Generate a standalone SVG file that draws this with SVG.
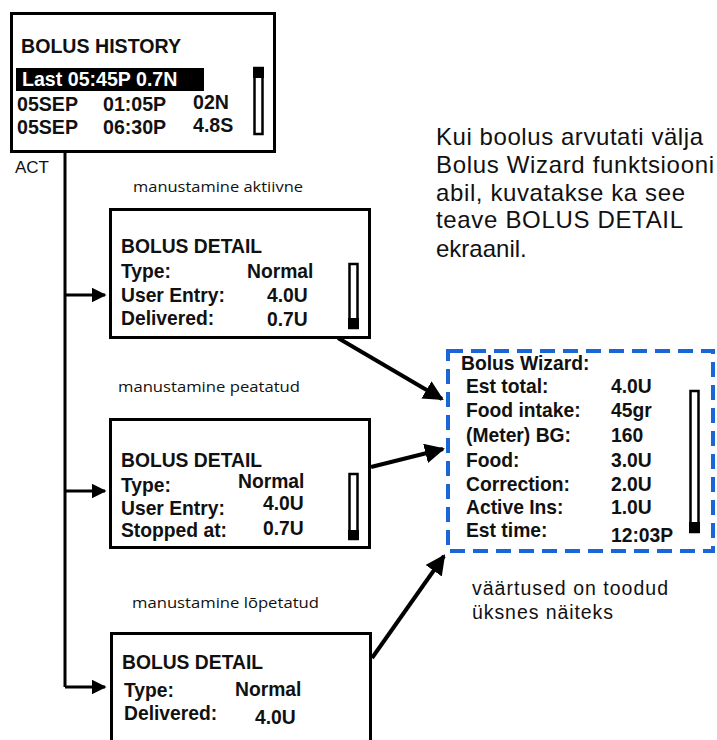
<svg xmlns="http://www.w3.org/2000/svg" width="717" height="740" viewBox="0 0 717 740">
<style>
.scr{fill:none;stroke:#000;stroke-width:3}
.ui{font-family:"Liberation Sans",Arial,sans-serif;font-weight:bold;font-size:19.3px;fill:#111}
.hist{font-family:"Liberation Sans",Arial,sans-serif;font-weight:bold;font-size:19.6px;fill:#111}
.lbl{font-family:"Open Sans","Liberation Sans",sans-serif;font-size:14px;fill:#111}
.para{font-family:"Liberation Sans",Arial,sans-serif;font-size:24px;fill:#111}
.note{font-family:"Liberation Sans",Arial,sans-serif;font-size:19.5px;fill:#111}
.sb{fill:#fff;stroke:#000;stroke-width:2.5}
.conn{fill:none;stroke:#000;stroke-width:3}
.conn2{fill:none;stroke:#000;stroke-width:4}
</style>
<defs>
<marker id="ah" markerWidth="5" markerHeight="5" refX="4.5" refY="2.5" orient="auto" markerUnits="strokeWidth">
<path d="M0,0 L5,2.5 L0,5 Z" fill="#000"/>
</marker>
<marker id="ah2" markerWidth="5" markerHeight="5" refX="4.5" refY="2.5" orient="auto" markerUnits="strokeWidth">
<path d="M0,0 L5,2.5 L0,5 Z" fill="#000"/>
</marker>
</defs>
<rect width="717" height="740" fill="#fff"/>

<g id="connectors">
<polyline class="conn" points="65,152 65,687"/>
<line class="conn" x1="65" y1="295" x2="105" y2="295" marker-end="url(#ah)"/>
<line class="conn" x1="65" y1="491" x2="105" y2="491" marker-end="url(#ah)"/>
<line class="conn" x1="65" y1="687" x2="105" y2="687" marker-end="url(#ah)"/>
<line class="conn2" x1="338" y1="338" x2="442" y2="399" marker-end="url(#ah2)"/>
<line class="conn2" x1="371" y1="467" x2="443" y2="449" marker-end="url(#ah2)"/>
<line class="conn2" x1="372" y1="658" x2="444" y2="556" marker-end="url(#ah2)"/>
</g>

<g id="bolus-history">
<rect class="scr" x="11.5" y="13.5" width="263" height="138"/>
<text class="hist" x="21" y="53">BOLUS HISTORY</text>
<rect x="16" y="68" width="188" height="23" fill="#000"/>
<text class="hist" x="22" y="86" style="fill:#fff">Last 05:45P 0.7N</text>
<text class="hist" x="17" y="111">05SEP</text>
<text class="hist" x="103" y="111">01:05P</text>
<text class="hist" x="193" y="109">02N</text>
<text class="hist" x="17" y="134">05SEP</text>
<text class="hist" x="103" y="134">06:30P</text>
<text class="hist" x="193" y="132">4.8S</text>
<rect class="sb" x="254.5" y="68" width="8" height="66"/>
<rect x="253" y="67" width="11" height="11" fill="#000"/>
</g>

<g id="act-label">
<text x="15" y="173" font-family="Liberation Sans, Arial, sans-serif" font-size="17" fill="#111">ACT</text>
</g>

<g id="detail-active">
<text class="lbl" x="133" y="192" textLength="170" lengthAdjust="spacingAndGlyphs">manustamine aktiivne</text>
<rect class="scr" x="110.5" y="209.5" width="259" height="128"/>
<text class="ui" x="121" y="253">BOLUS DETAIL</text>
<text class="ui" x="121" y="278">Type:</text>
<text class="ui" x="247" y="278">Normal</text>
<text class="ui" x="121" y="302">User Entry:</text>
<text class="ui" x="267" y="302">4.0U</text>
<text class="ui" x="121" y="325">Delivered:</text>
<text class="ui" x="267" y="326">0.7U</text>
<rect class="sb" x="349.5" y="264" width="8" height="64"/>
<rect x="348" y="318" width="11" height="11" fill="#000"/>
</g>

<g id="detail-stopped">
<text class="lbl" x="118" y="392" textLength="182" lengthAdjust="spacingAndGlyphs">manustamine peatatud</text>
<rect class="scr" x="110.5" y="419.5" width="259" height="128"/>
<text class="ui" x="121" y="467">BOLUS DETAIL</text>
<text class="ui" x="121" y="492">Type:</text>
<text class="ui" x="238" y="488">Normal</text>
<text class="ui" x="121" y="515">User Entry:</text>
<text class="ui" x="263" y="510">4.0U</text>
<text class="ui" x="121" y="537">Stopped at:</text>
<text class="ui" x="263" y="535">0.7U</text>
<rect class="sb" x="349.5" y="474" width="8" height="65"/>
<rect x="348" y="530" width="11" height="10" fill="#000"/>
</g>

<g id="detail-ended">
<text class="lbl" x="132" y="608" textLength="187" lengthAdjust="spacingAndGlyphs">manustamine lõpetatud</text>
<rect class="scr" x="111.5" y="633.5" width="259" height="130"/>
<text class="ui" x="122" y="669">BOLUS DETAIL</text>
<text class="ui" x="124" y="697">Type:</text>
<text class="ui" x="235" y="696">Normal</text>
<text class="ui" x="124" y="720">Delivered:</text>
<text class="ui" x="255" y="724">4.0U</text>
</g>

<g id="explanation">
<text class="para" x="436" y="145" textLength="267" lengthAdjust="spacing">Kui boolus arvutati välja</text>
<text class="para" x="436" y="173" textLength="278" lengthAdjust="spacing">Bolus Wizard funktsiooni</text>
<text class="para" x="436" y="201" textLength="249" lengthAdjust="spacing">abil, kuvatakse ka see</text>
<text class="para" x="436" y="228" textLength="247" lengthAdjust="spacing">teave BOLUS DETAIL</text>
<text class="para" x="436" y="257">ekraanil.</text>
</g>

<g id="bolus-wizard">
<rect x="448" y="351" width="265" height="200" fill="none" stroke="#1a66d6" stroke-width="4" stroke-dasharray="15 8"/>
<text class="ui" x="461" y="370">Bolus Wizard:</text>
<text class="ui" x="466" y="393">Est total:</text>
<text class="ui" x="611" y="393">4.0U</text>
<text class="ui" x="466" y="417">Food intake:</text>
<text class="ui" x="611" y="417">45gr</text>
<text class="ui" x="466" y="442">(Meter) BG:</text>
<text class="ui" x="611" y="442">160</text>
<text class="ui" x="466" y="467">Food:</text>
<text class="ui" x="611" y="467">3.0U</text>
<text class="ui" x="466" y="491">Correction:</text>
<text class="ui" x="611" y="491">2.0U</text>
<text class="ui" x="466" y="514">Active Ins:</text>
<text class="ui" x="611" y="514">1.0U</text>
<text class="ui" x="466" y="537">Est time:</text>
<text class="ui" x="611" y="542">12:03P</text>
<rect class="sb" x="690.5" y="391" width="8" height="141"/>
<rect x="689" y="522" width="11" height="11" fill="#000"/>
</g>

<g id="note">
<text class="note" x="472" y="595" textLength="196" lengthAdjust="spacing">väärtused on toodud</text>
<text class="note" x="472" y="619" textLength="141" lengthAdjust="spacing">üksnes näiteks</text>
</g>
</svg>
